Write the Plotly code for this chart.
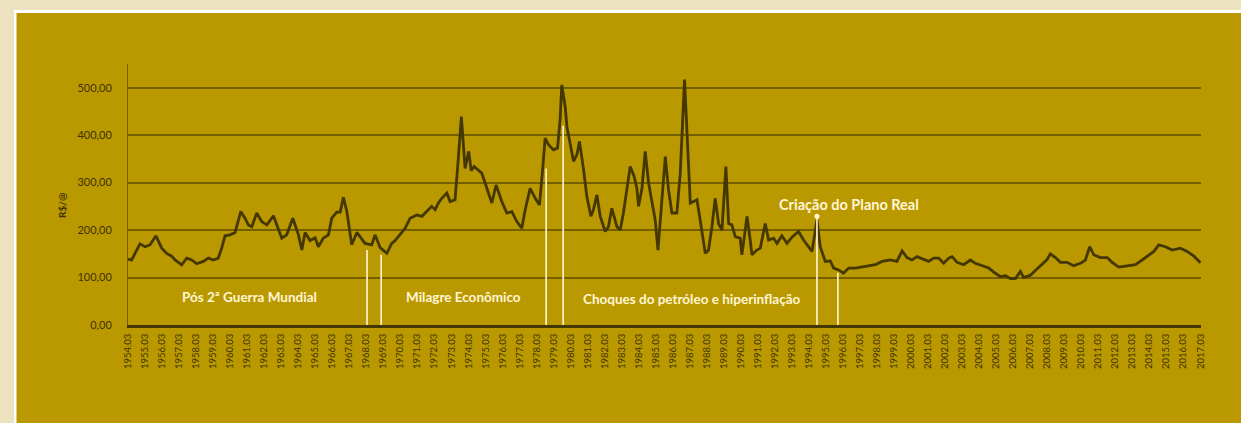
import plotly.graph_objects as go

# ---------------- data ----------------
years = [
    1954.17, 1954.38, 1954.68, 1954.87, 1955.17, 1955.46, 1955.81, 1956.15, 1956.44, 1956.73,
    1956.93, 1957.32, 1957.62, 1957.91, 1958.20, 1958.59, 1958.89, 1959.18, 1959.47, 1959.67,
    1959.87, 1960.16, 1960.46, 1960.79, 1961.04, 1961.24, 1961.44, 1961.73, 1962.02, 1962.32,
    1962.71, 1962.91, 1963.20, 1963.49, 1963.85, 1964.18, 1964.38, 1964.57, 1964.86, 1965.16,
    1965.35, 1965.64, 1965.94, 1966.14, 1966.43, 1966.63, 1966.82, 1967.02, 1967.31, 1967.61,
    1967.80, 1968.09, 1968.49, 1968.68, 1968.98, 1969.37, 1969.66, 1969.86, 1970.05, 1970.45,
    1970.74, 1971.13, 1971.43, 1971.72, 1972.01, 1972.21, 1972.40, 1972.60, 1972.90, 1973.09,
    1973.38, 1973.58, 1973.75, 1973.97, 1974.18, 1974.33, 1974.50, 1974.95, 1975.25, 1975.54,
    1975.79, 1976.13, 1976.42, 1976.72, 1977.01, 1977.30, 1977.50, 1977.79, 1978.09, 1978.34,
    1978.54, 1978.67, 1978.87, 1979.16, 1979.40, 1979.55, 1979.65, 1979.85, 1979.95, 1980.14,
    1980.34, 1980.54, 1980.69, 1980.93, 1981.12, 1981.36, 1981.51, 1981.71, 1981.91, 1982.20,
    1982.39, 1982.59, 1982.89, 1983.08, 1983.27, 1983.67, 1983.90, 1984.06, 1984.16, 1984.36,
    1984.55, 1984.75, 1985.14, 1985.30, 1985.53, 1985.73, 1985.92, 1986.12, 1986.41, 1986.61,
    1986.86, 1987.04, 1987.20, 1987.39, 1987.59, 1987.78, 1988.08, 1988.27, 1988.47, 1988.66,
    1988.86, 1989.06, 1989.29, 1989.45, 1989.64, 1989.84, 1990.13, 1990.23, 1990.43, 1990.53,
    1990.72, 1990.82, 1991.11, 1991.31, 1991.60, 1991.80, 1992.09, 1992.29, 1992.58, 1992.88,
    1993.17, 1993.56, 1993.85, 1994.15, 1994.35, 1994.64, 1994.83, 1995.13, 1995.42, 1995.62,
    1995.91, 1996.20, 1996.50, 1996.89, 1997.48, 1998.07, 1998.46, 1998.95, 1999.34, 1999.64,
    1999.93, 2000.22, 2000.52, 2000.91, 2001.20, 2001.49, 2001.79, 2002.08, 2002.38, 2002.58,
    2002.87, 2003.26, 2003.65, 2003.94, 2004.34, 2004.73, 2005.12, 2005.41, 2005.71, 2006.00,
    2006.30, 2006.59, 2006.78, 2007.18, 2007.47, 2007.86, 2008.16, 2008.35, 2008.65, 2008.94,
    2009.33, 2009.72, 2010.12, 2010.41, 2010.66, 2010.90, 2011.29, 2011.69, 2011.98, 2012.37,
    2012.86, 2013.35, 2013.74, 2014.13, 2014.43, 2014.72, 2015.11, 2015.51, 2015.99, 2016.39,
    2016.78, 2017.17,
]
prices = [
    139, 137, 158, 171, 165, 169, 188, 162, 151, 145,
    137, 127, 141, 137, 129, 134, 141, 137, 141, 162,
    188, 190, 195, 239, 225, 211, 207, 236, 218, 211,
    230, 210, 183, 190, 225, 190, 158, 195, 178, 184,
    165, 183, 190, 225, 238, 238, 269, 240, 169, 195,
    186, 172, 169, 190, 163, 151, 172, 178, 186, 204,
    225, 232, 229, 239, 250, 243, 257, 267, 278, 260,
    264, 355, 439, 330, 366, 325, 334, 320, 288, 257,
    295, 260, 236, 239, 218, 204, 243, 288, 267, 253,
    334, 394, 380, 369, 373, 432, 506, 460, 418, 380,
    345, 359, 387, 327, 271, 229, 243, 274, 229, 197,
    207, 246, 207, 200, 236, 334, 313, 288, 250, 288,
    366, 299, 221, 158, 264, 355, 285, 236, 236, 320,
    517, 369, 257, 260, 264, 221, 151, 158, 207, 267,
    214, 200, 334, 214, 211, 186, 183, 148, 200, 229,
    179, 148, 158, 162, 214, 179, 183, 172, 188, 172,
    185, 197, 179, 165, 155, 222, 165, 134, 135, 120,
    116, 109, 120, 120, 124, 127, 134, 137, 134, 156,
    142, 137, 144, 139, 134, 141, 141, 130, 141, 144,
    132, 127, 137, 130, 125, 120, 109, 102, 104, 98,
    98, 113, 100, 105, 115, 127, 138, 150, 142, 132,
    132, 125, 130, 137, 165, 148, 142, 142, 132, 122,
    124, 127, 137, 148, 155, 169, 165, 158, 162, 155,
    145, 131,
]

tick_years = list(range(1954, 2018))
tick_labels = [f"{y}.03" for y in tick_years]
y_ticks = [0, 100, 200, 300, 400, 500]
y_tick_labels = ["0,00", "100,00", "200,00", "300,00", "400,00", "500,00"]

# period separators (year, height of white line)
sep_years = [1968.21, 1969.04, 1978.73, 1979.73, 1995.87]
sep_tops = [158, 148, 330, 420, 110]
real_year = 1994.64
real_value = 229

period_labels = ["Pós 2ª Guerra Mundial", "Milagre Econômico",
                 "Choques do petróleo e hiperinflação", "Criação do Plano Real"]
period_label_x = [1961.33, 1973.85, 1987.3, 1996.53]
period_label_y = [59, 59, 55, 253]
period_label_size = [13.5, 13.5, 13.5, 14.5]

# ---------------- styling ----------------
W, H = 1250, 423          # a little wider than the window so the right edge stays gold
L, R, T, B = 128, 49, 64, 98
GOLD = "#BA9900"
CREAM = "#ECE2BF"
LINE = "#443700"
GRID = "#746000"
TXT = "#3F3200"
WHITE = "#FFF6D6"
FONT = "Lato"

pw = W - L - R
ph = H - T - B


def px(xp):
    return (xp - L) / pw


def py(yp):
    return (H - B - yp) / ph


fig = go.Figure()
fig.add_trace(go.Scatter(x=years, y=prices, mode="lines",
                         line=dict(color=LINE, width=2.8), hoverinfo="skip"))
fig.add_trace(go.Scatter(x=[real_year], y=[real_value], mode="markers",
                         marker=dict(color=WHITE, size=5), hoverinfo="skip"))

shapes = []
# outer frame: cream band left/top, thin white line
shapes.append(dict(type="rect", xref="paper", yref="paper", x0=px(-5), x1=px(14),
                   y0=py(H + 5), y1=py(-5), fillcolor=CREAM, line_width=0, layer="below"))
shapes.append(dict(type="rect", xref="paper", yref="paper", x0=px(-5), x1=px(W + 5),
                   y0=py(10), y1=py(-5), fillcolor=CREAM, line_width=0, layer="below"))
shapes.append(dict(type="rect", xref="paper", yref="paper", x0=px(14), x1=px(16.5),
                   y0=py(H + 5), y1=py(10), fillcolor="#FFFFFF", line_width=0, layer="below"))
shapes.append(dict(type="rect", xref="paper", yref="paper", x0=px(14), x1=px(W + 5),
                   y0=py(13), y1=py(10), fillcolor="#FFFFFF", line_width=0, layer="below"))

for xv, tv in zip(sep_years, sep_tops):
    shapes.append(dict(type="line", xref="x", yref="y", x0=xv, x1=xv, y0=0, y1=tv,
                       line=dict(color=WHITE, width=1.6)))
shapes.append(dict(type="line", xref="x", yref="y", x0=real_year, x1=real_year,
                   y0=0, y1=real_value, line=dict(color=WHITE, width=1.6)))

annotations = []
for txt, xv, yv, fs in zip(period_labels, period_label_x, period_label_y, period_label_size):
    annotations.append(dict(x=xv, y=yv, xref="x", yref="y", text=txt, showarrow=False,
                            font=dict(family=FONT, size=fs, color=WHITE, weight="bold"),
                            xanchor="center", yanchor="middle"))
annotations.append(dict(x=px(62), y=py(205), xref="paper", yref="paper", text="R$/@",
                        textangle=-90, showarrow=False,
                        font=dict(family=FONT, size=10, color=TXT, weight="bold"),
                        xanchor="center", yanchor="middle"))

fig.update_layout(
    width=W, height=H,
    margin=dict(l=L, r=R, t=T, b=B, pad=0),
    paper_bgcolor=GOLD, plot_bgcolor=GOLD,
    showlegend=False,
    shapes=shapes,
    annotations=annotations,
    font=dict(family=FONT, color=TXT),
)
fig.update_xaxes(
    range=[1954.167, 2017.2],
    tickmode="array", tickvals=[y + 2 / 12 for y in tick_years], ticktext=tick_labels,
    tickangle=-90, tickfont=dict(family=FONT, size=9.5, color=TXT),
    showgrid=False, zeroline=False,
    showline=True, linecolor=LINE, linewidth=3,
    ticks="outside", ticklen=2, tickcolor=GOLD, tickwidth=1,
)
fig.update_yaxes(
    range=[0, 550],
    tickmode="array", tickvals=y_ticks, ticktext=y_tick_labels,
    tickfont=dict(family=FONT, size=11, color=TXT),
    showgrid=True, gridcolor=GRID, gridwidth=2,
    zeroline=False, showline=True, linecolor=GRID, linewidth=1,
    ticks="", ticklabelstandoff=13,
)

fig.write_html(
    "out.html",
    config={"displayModeBar": False},
    post_script=(
        "document.documentElement.style.overflow='hidden';"
        "document.documentElement.style.background='" + GOLD + "';"
        "document.body.style.overflow='hidden';"
        "document.body.style.margin='0';"
        "document.body.style.background='" + GOLD + "';"
    ),
)
